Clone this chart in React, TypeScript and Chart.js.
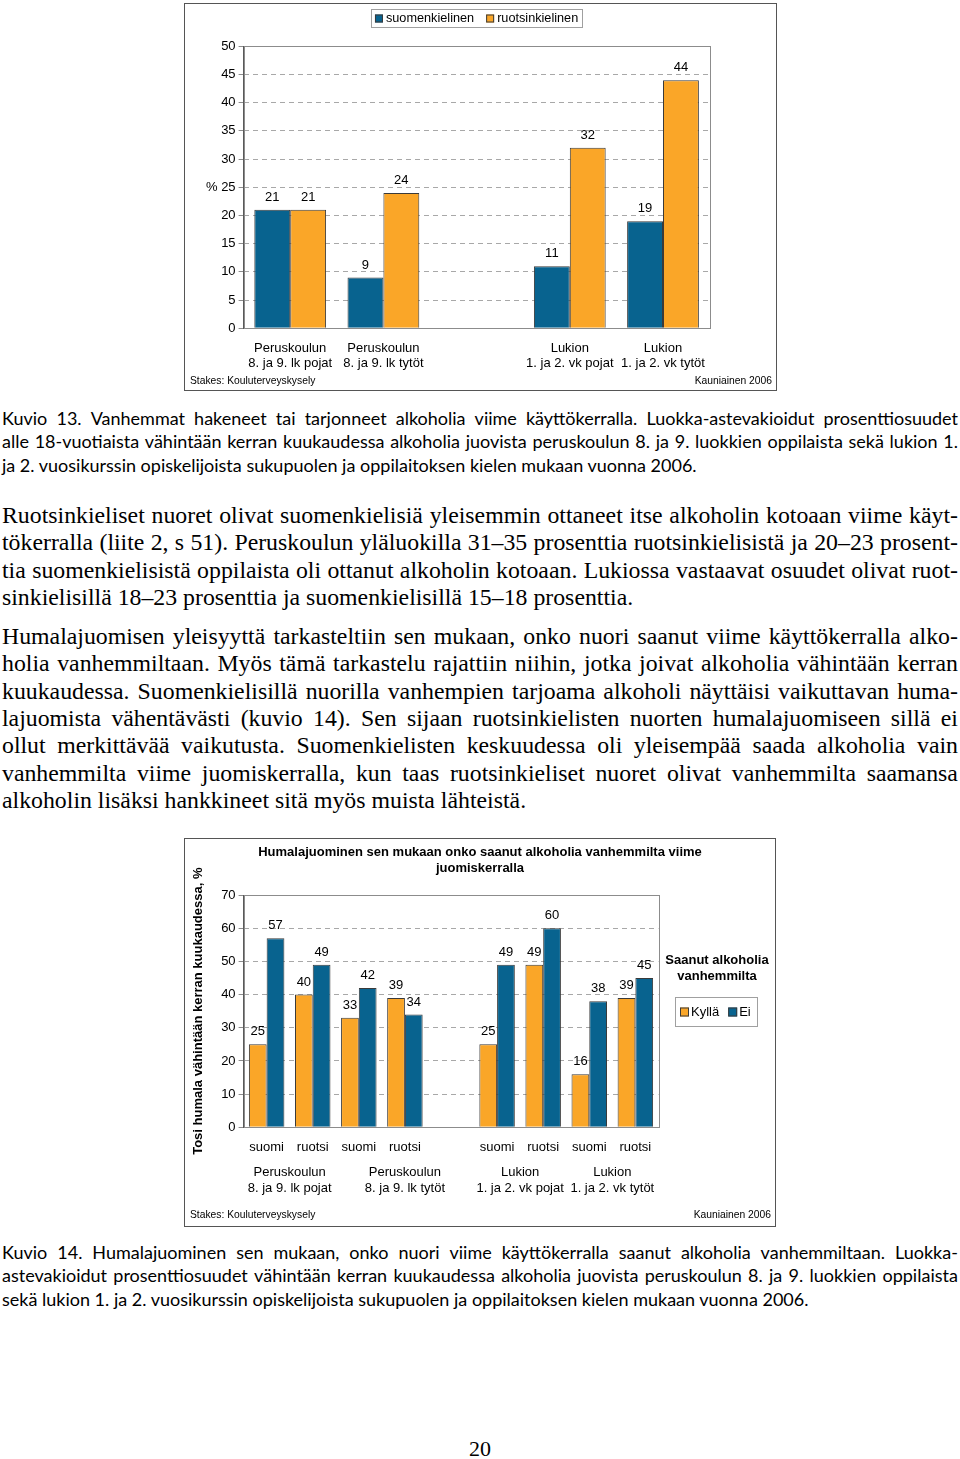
import React, { useEffect, useRef } from "react";
import { Chart, registerables } from "chart.js";
Chart.register(...registerables);

const FONT = '"Liberation Sans", Arial, sans-serif';
const SERIF = '"Liberation Serif", "Times New Roman", serif';
const CAPFONT = 'Lato, "Noto Sans", sans-serif';

const BLUE = "#08638f";
const ORANGE = "#faa628";
const EDGE = "#3a3a3a";
const AXIS = "#595959";
const GRID = "#a8a8a8";
const FRAME = "#8c8c8c";

// ---- Chart 1 (Kuvio 13) ----
const groups1: (string | string[])[] = [
  ["Peruskoulun", "8. ja 9. lk pojat"],
  ["Peruskoulun", "8. ja 9. lk tytöt"],
  "",
  ["Lukion", "1. ja 2. vk pojat"],
  ["Lukion", "1. ja 2. vk tytöt"],
];
const series1Names = ["suomenkielinen", "ruotsinkielinen"];
const suomenkielinen = [21, 9, null, 11, 19];
const ruotsinkielinen = [21, 24, null, 32, 44];

// ---- Chart 2 (Kuvio 14) ----
const lang2 = ["suomi", "ruotsi", "suomi", "ruotsi", "", "suomi", "ruotsi", "suomi", "ruotsi"];
const series2Names = ["Kyllä", "Ei"];
const kylla = [25, 40, 33, 39, null, 25, 49, 16, 39];
const ei = [57, 49, 42, 34, null, 49, 60, 38, 45];
const groups2 = [
  ["Peruskoulun", "8. ja 9. lk pojat"],
  ["Peruskoulun", "8. ja 9. lk tytöt"],
  ["Lukion", "1. ja 2. vk pojat"],
  ["Lukion", "1. ja 2. vk tytöt"],
];
const groupSpans2 = [[0, 1], [2, 4], [5, 6], [7, 8]];
const title2 = ["Humalajuominen sen mukaan onko saanut alkoholia vanhemmilta viime", "juomiskerralla"];
const yTitle2 = "Tosi humala vähintään kerran kuukaudessa, %";
const legendTitle2 = ["Saanut alkoholia", "vanhemmilta"];

// ---- Text ----
const caption13 = [
  "Kuvio 13. Vanhemmat hakeneet tai tarjonneet alkoholia viime käyttökerralla. Luokka-astevakioidut prosenttiosuudet",
  "alle 18-vuotiaista vähintään kerran kuukaudessa alkoholia juovista peruskoulun 8. ja 9. luokkien oppilaista sekä lukion 1.",
  "ja 2. vuosikurssin opiskelijoista sukupuolen ja oppilaitoksen kielen mukaan vuonna 2006.",
];
const caption13Y = [418, 441, 465];
const para1 = [
  "Ruotsinkieliset nuoret olivat suomenkielisiä yleisemmin ottaneet itse alkoholin kotoaan viime käyt-",
  "tökerralla (liite 2, s 51). Peruskoulun yläluokilla 31–35 prosenttia ruotsinkielisistä ja 20–23 prosent-",
  "tia suomenkielisistä oppilaista oli ottanut alkoholin kotoaan. Lukiossa vastaavat osuudet olivat ruot-",
  "sinkielisillä 18–23 prosenttia ja suomenkielisillä 15–18 prosenttia.",
];
const para1Y = [515, 542, 570, 597];
const para2 = [
  "Humalajuomisen yleisyyttä tarkasteltiin sen mukaan, onko nuori saanut viime käyttökerralla alko-",
  "holia vanhemmiltaan. Myös tämä tarkastelu rajattiin niihin, jotka joivat alkoholia vähintään kerran",
  "kuukaudessa. Suomenkielisillä nuorilla vanhempien tarjoama alkoholi näyttäisi vaikuttavan huma-",
  "lajuomista vähentävästi (kuvio 14). Sen sijaan ruotsinkielisten nuorten humalajuomiseen sillä ei",
  "ollut merkittävää vaikutusta. Suomenkielisten keskuudessa oli yleisempää saada alkoholia vain",
  "vanhemmilta viime juomiskerralla, kun taas ruotsinkieliset nuoret olivat vanhemmilta saamansa",
  "alkoholin lisäksi hankkineet sitä myös muista lähteistä.",
];
const para2Y = [636, 663, 691, 718, 745, 773, 800];
const caption14 = [
  "Kuvio 14. Humalajuominen sen mukaan, onko nuori viime käyttökerralla saanut alkoholia vanhemmiltaan. Luokka-",
  "astevakioidut prosenttiosuudet vähintään kerran kuukaudessa alkoholia juovista peruskoulun 8. ja 9. luokkien oppilaista",
  "sekä lukion 1. ja 2. vuosikurssin opiskelijoista sukupuolen ja oppilaitoksen kielen mukaan vuonna 2006.",
];
const caption14Y = [1252, 1275, 1299];

// ---- plugins ----
const plotFrame = {
  id: "plotFrame",
  beforeDatasetsDraw(chart: any) {
    const { ctx, chartArea: a } = chart;
    ctx.save();
    ctx.strokeStyle = FRAME;
    ctx.lineWidth = 1;
    ctx.strokeRect(Math.round(a.left) + 0.5, Math.round(a.top) + 0.5, Math.round(a.right - a.left), Math.round(a.bottom - a.top));
    ctx.restore();
  },
};

const valueLabels = {
  id: "valueLabels",
  afterDatasetsDraw(chart: any) {
    const ctx = chart.ctx;
    ctx.save();
    ctx.font = `13px ${FONT}`;
    ctx.fillStyle = "#000";
    ctx.textAlign = "center";
    ctx.textBaseline = "middle";
    chart.data.datasets.forEach((ds: any, i: number) => {
      const meta = chart.getDatasetMeta(i);
      meta.data.forEach((el: any, j: number) => {
        const v = ds.data[j];
        if (v == null) return;
        ctx.fillText(String(v), el.x, el.y - 12.5);
      });
    });
    ctx.restore();
  },
};

function footerPlugin(y: number) {
  return {
    id: "footer",
    afterDraw(chart: any) {
      const ctx = chart.ctx;
      ctx.save();
      ctx.font = `10.3px ${FONT}`;
      ctx.fillStyle = "#000";
      ctx.textBaseline = "middle";
      ctx.textAlign = "left";
      ctx.fillText("Stakes: Kouluterveyskysely", 5, y);
      ctx.textAlign = "right";
      ctx.fillText("Kauniainen 2006", chart.width - 4, y);
      ctx.restore();
    },
  };
}

const legend1Plugin = {
  id: "legend1",
  afterDraw(chart: any) {
    const { ctx, chartArea: a } = chart;
    const ds = chart.data.datasets;
    ctx.save();
    ctx.font = `12.7px ${FONT}`;
    const w1 = ctx.measureText(ds[0].label).width;
    const w2 = ctx.measureText(ds[1].label).width;
    const total = 4 + 8 + 3 + w1 + 12 + 8 + 3 + w2 + 4;
    const left = (a.left + a.right) / 2 - total / 2;
    const top = 5.5, h = 18, cy = 14.5;
    ctx.fillStyle = "#fff";
    ctx.fillRect(left, top, total, h);
    ctx.strokeStyle = "#a0a0a0";
    ctx.lineWidth = 1;
    ctx.strokeRect(Math.round(left) + 0.5, top, Math.round(total), h);
    let x = left + 4;
    [0, 1].forEach((i) => {
      ctx.fillStyle = ds[i].backgroundColor;
      ctx.fillRect(x, cy - 4, 8, 8);
      ctx.strokeStyle = EDGE;
      ctx.strokeRect(x + 0.5, cy - 3.5, 7, 7);
      x += 11;
      ctx.fillStyle = "#000";
      ctx.textAlign = "left";
      ctx.textBaseline = "middle";
      ctx.fillText(ds[i].label, x, cy);
      x += (i === 0 ? w1 : w2) + 12;
    });
    ctx.restore();
  },
};

const title2Plugin = {
  id: "title2",
  afterDraw(chart: any) {
    const ctx = chart.ctx;
    ctx.save();
    ctx.font = `bold 13px ${FONT}`;
    ctx.fillStyle = "#000";
    ctx.textAlign = "center";
    ctx.textBaseline = "middle";
    title2.forEach((t, i) => ctx.fillText(t, chart.width / 2, 13 + i * 16));
    ctx.restore();
  },
};

const legend2Plugin = {
  id: "legend2",
  afterDraw(chart: any) {
    const ctx = chart.ctx;
    const ds = chart.data.datasets;
    const cx = 532;
    ctx.save();
    ctx.font = `bold 13px ${FONT}`;
    ctx.fillStyle = "#000";
    ctx.textAlign = "center";
    ctx.textBaseline = "middle";
    legendTitle2.forEach((t, i) => ctx.fillText(t, cx, 121 + i * 16));
    ctx.strokeStyle = "#a0a0a0";
    ctx.lineWidth = 1;
    ctx.strokeRect(490.5, 158.5, 82, 29);
    ctx.font = `13px ${FONT}`;
    ctx.textAlign = "left";
    let x = 495;
    const cy = 173;
    [0, 1].forEach((i) => {
      ctx.fillStyle = ds[i].backgroundColor;
      ctx.fillRect(x, cy - 4.5, 9, 9);
      ctx.strokeStyle = EDGE;
      ctx.strokeRect(x + 0.5, cy - 4, 8, 8);
      x += 11;
      ctx.fillStyle = "#000";
      ctx.fillText(ds[i].label, x, cy);
      x += ctx.measureText(ds[i].label).width + 9;
    });
    ctx.restore();
  },
};

const groupLabels2Plugin = {
  id: "groupLabels2",
  afterDraw(chart: any) {
    const ctx = chart.ctx;
    const xs = chart.scales.x;
    ctx.save();
    ctx.font = `13px ${FONT}`;
    ctx.fillStyle = "#000";
    ctx.textAlign = "center";
    ctx.textBaseline = "middle";
    groups2.forEach((g, i) => {
      const [a, b] = groupSpans2[i];
      const x = (xs.getPixelForValue(a) + xs.getPixelForValue(b)) / 2;
      g.forEach((line, k) => ctx.fillText(line, x, 333 + k * 16));
    });
    ctx.restore();
  },
};

function Chart1() {
  const ref = useRef<HTMLCanvasElement>(null);
  useEffect(() => {
    const chart = new Chart(ref.current as HTMLCanvasElement, {
      type: "bar",
      data: {
        labels: groups1 as any,
        datasets: [
          { label: series1Names[0], data: suomenkielinen as any, backgroundColor: BLUE, borderColor: EDGE, borderWidth: 1 },
          { label: series1Names[1], data: ruotsinkielinen as any, backgroundColor: ORANGE, borderColor: EDGE, borderWidth: 1 },
        ],
      },
      options: {
        responsive: false,
        animation: false,
        layout: { padding: { left: 0, top: 42.3, right: 66.4, bottom: 0 } },
        datasets: { bar: { categoryPercentage: 0.77, barPercentage: 1 } },
        plugins: { legend: { display: false }, tooltip: { enabled: false }, title: { display: false } },
        scales: {
          x: {
            grid: { display: false, drawTicks: false },
            border: { display: true, color: AXIS },
            ticks: { color: "#000", font: { family: FONT, size: 13, lineHeight: "15px" }, padding: 13, maxRotation: 0, autoSkip: false },
            afterFit: (s: any) => { s.height = 61.7; },
          },
          y: {
            min: 0,
            max: 50,
            ticks: { stepSize: 5, color: "#000", font: { family: FONT, size: 13 }, padding: 3, callback: (v: any) => (v === 25 ? "% 25" : String(v)) },
            grid: { color: GRID, tickLength: 5, tickColor: FRAME },
            border: { display: true, color: AXIS, dash: [5, 4] },
            afterFit: (s: any) => { s.width = 58.6; },
          },
        },
      } as any,
      plugins: [plotFrame, valueLabels, footerPlugin(377), legend1Plugin],
    });
    return () => chart.destroy();
  }, []);
  return <canvas ref={ref} width={591} height={386} style={{ display: "block" }} />;
}

function Chart2() {
  const ref = useRef<HTMLCanvasElement>(null);
  useEffect(() => {
    const chart = new Chart(ref.current as HTMLCanvasElement, {
      type: "bar",
      data: {
        labels: lang2,
        datasets: [
          { label: series2Names[0], data: kylla as any, backgroundColor: ORANGE, borderColor: EDGE, borderWidth: 1 },
          { label: series2Names[1], data: ei as any, backgroundColor: BLUE, borderColor: EDGE, borderWidth: 1 },
        ],
      },
      options: {
        responsive: false,
        animation: false,
        layout: { padding: { left: 0, top: 56, right: 116.6, bottom: 0 } },
        datasets: { bar: { categoryPercentage: 0.77, barPercentage: 1 } },
        plugins: { legend: { display: false }, tooltip: { enabled: false }, title: { display: false } },
        scales: {
          x: {
            grid: { display: false, drawTicks: false },
            border: { display: true, color: AXIS },
            ticks: { color: "#000", font: { family: FONT, size: 13 }, padding: 12, maxRotation: 0, autoSkip: false },
            afterFit: (s: any) => { s.height = 98.7; },
          },
          y: {
            min: 0,
            max: 70,
            title: { display: true, text: yTitle2, color: "#000", font: { family: FONT, size: 13, weight: "bold" }, padding: { top: 6, bottom: 0 } },
            ticks: { stepSize: 10, color: "#000", font: { family: FONT, size: 13 }, padding: 3 },
            grid: { color: GRID, tickLength: 5, tickColor: FRAME },
            border: { display: true, color: AXIS, dash: [5, 4] },
            afterFit: (s: any) => { s.width = 58.6; },
          },
        },
      } as any,
      plugins: [plotFrame, valueLabels, footerPlugin(376), title2Plugin, legend2Plugin, groupLabels2Plugin],
    });
    return () => chart.destroy();
  }, []);
  return <canvas ref={ref} width={590} height={387} style={{ display: "block" }} />;
}

function Line({ text, y, justify, family, size, lh }: { text: string; y: number; justify: boolean; family: string; size: number; lh: number }) {
  const base: React.CSSProperties = {
    position: "absolute",
    left: 2,
    width: 956,
    top: y - lh / 2,
    height: lh,
    lineHeight: lh + "px",
    fontFamily: family,
    fontSize: size,
    color: "#000",
    whiteSpace: "nowrap",
  };
  if (!justify) return <div style={base}>{text}</div>;
  return (
    <div style={{ ...base, display: "flex", justifyContent: "space-between" }}>
      {text.split(" ").map((w, i) => (
        <span key={i}>{w}</span>
      ))}
    </div>
  );
}

function Block({ lines, ys, family, size, lh }: { lines: string[]; ys: number[]; family: string; size: number; lh: number }) {
  return (
    <>
      {lines.map((t, i) => (
        <Line key={i} text={t} y={ys[i]} justify={i < lines.length - 1} family={family} size={size} lh={lh} />
      ))}
    </>
  );
}

export default function App() {
  return (
    <div style={{ position: "absolute", left: 0, top: 0, width: 960, height: 1459, background: "#fff", overflow: "hidden" }}>
      <div style={{ position: "absolute", left: 184, top: 3, width: 591, height: 386, border: "1px solid #555" }}>
        <Chart1 />
      </div>
      <Block lines={caption13} ys={caption13Y} family={CAPFONT} size={18} lh={23} />
      <Block lines={para1} ys={para1Y} family={SERIF} size={23.8} lh={27} />
      <Block lines={para2} ys={para2Y} family={SERIF} size={23.8} lh={27} />
      <div style={{ position: "absolute", left: 184, top: 838, width: 590, height: 387, border: "1px solid #555" }}>
        <Chart2 />
      </div>
      <Block lines={caption14} ys={caption14Y} family={CAPFONT} size={18} lh={23} />
      <div style={{ position: "absolute", left: 0, width: 960, top: 1435, height: 28, lineHeight: "28px", textAlign: "center", fontFamily: SERIF, fontSize: 22 }}>
        20
      </div>
    </div>
  );
}
